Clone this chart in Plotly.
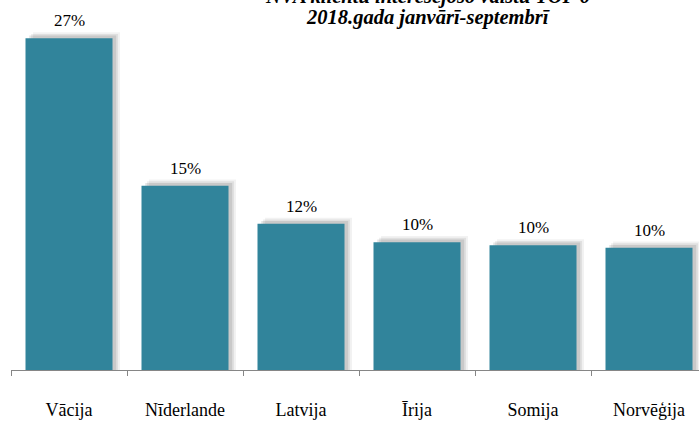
import plotly.graph_objects as go

categories = ["Vācija", "Nīderlande", "Latvija", "Īrija", "Somija", "Norvēģija"]
values = [27.0, 15.0, 11.9, 10.4, 10.15, 9.95]
labels = ["27%", "15%", "12%", "10%", "10%", "10%"]
title_lines = ["NVA klientu interesējošo valstu TOP 6", "2018.gada janvārī-septembrī"]

BAR = "#31849B"
SERIF = "Liberation Serif"

fig = go.Figure()

# soft shadow layers (same data, offset to the right/up)
for dx, dy, a in [(0.065, 0.5, 0.05), (0.048, 0.36, 0.07), (0.032, 0.22, 0.1)]:
    fig.add_trace(go.Bar(
        x=list(range(len(categories))), y=[v + dy for v in values],
        width=0.75, offset=-0.375 + dx,
        marker=dict(color=f"rgba(0,0,0,{a})", line=dict(width=0)),
        hoverinfo="skip", showlegend=False,
    ))

fig.add_trace(go.Bar(
    x=list(range(len(categories))), y=values,
    width=0.75, offset=-0.375,
    marker=dict(color=BAR, line=dict(width=0)),
    showlegend=False,
))

for i, (v, t) in enumerate(zip(values, labels)):
    fig.add_annotation(x=i, y=v, text=t, showarrow=False, yanchor="bottom",
                       yshift=6, font=dict(family=SERIF, size=17, color="#000000"))

# title: two lines, the first partly cut at the top like the reference
for line, yb in zip(title_lines, [10, 31]):
    fig.add_annotation(xref="paper", yref="paper", x=0.606, y=1.0, yanchor="bottom",
                       yshift=20 - yb, text="<b><i>" + line + "</i></b>",
                       showarrow=False, align="center",
                       font=dict(family=SERIF, size=20.5, color="#000000"))

fig.update_layout(
    width=699, height=421,
    margin=dict(l=11, r=0, t=20, b=51, autoexpand=False),
    paper_bgcolor="white", plot_bgcolor="white",
    barmode="overlay",
    xaxis=dict(
        tickmode="array", tickvals=list(range(len(categories))), ticktext=categories,
        range=[-0.5, 5.431], showgrid=False, zeroline=False,
        showline=True, linecolor="#868686", linewidth=1,
        ticks="", tickfont=dict(family=SERIF, size=18, color="#000000"),
        ticklabelstandoff=23, automargin=False,
    ),
    yaxis=dict(range=[0, 28.49], visible=False, automargin=False),
    xaxis2=dict(
        overlaying="x", matches="x", tickmode="array",
        tickvals=[i - 0.5 for i in range(len(categories))], ticktext=[""] * len(categories),
        ticks="outside", ticklen=5, tickcolor="#868686", showgrid=False, zeroline=False,
        showline=False, side="bottom", showticklabels=False, automargin=False,
    ),
)

fig.add_trace(go.Scatter(x=[0], y=[0], xaxis="x2", mode="markers",
                         marker=dict(opacity=0), hoverinfo="skip", showlegend=False))

fig.write_html("out.html", config={"displayModeBar": False},
               post_script="document.body.style.margin='0';document.body.style.overflow='hidden';")
